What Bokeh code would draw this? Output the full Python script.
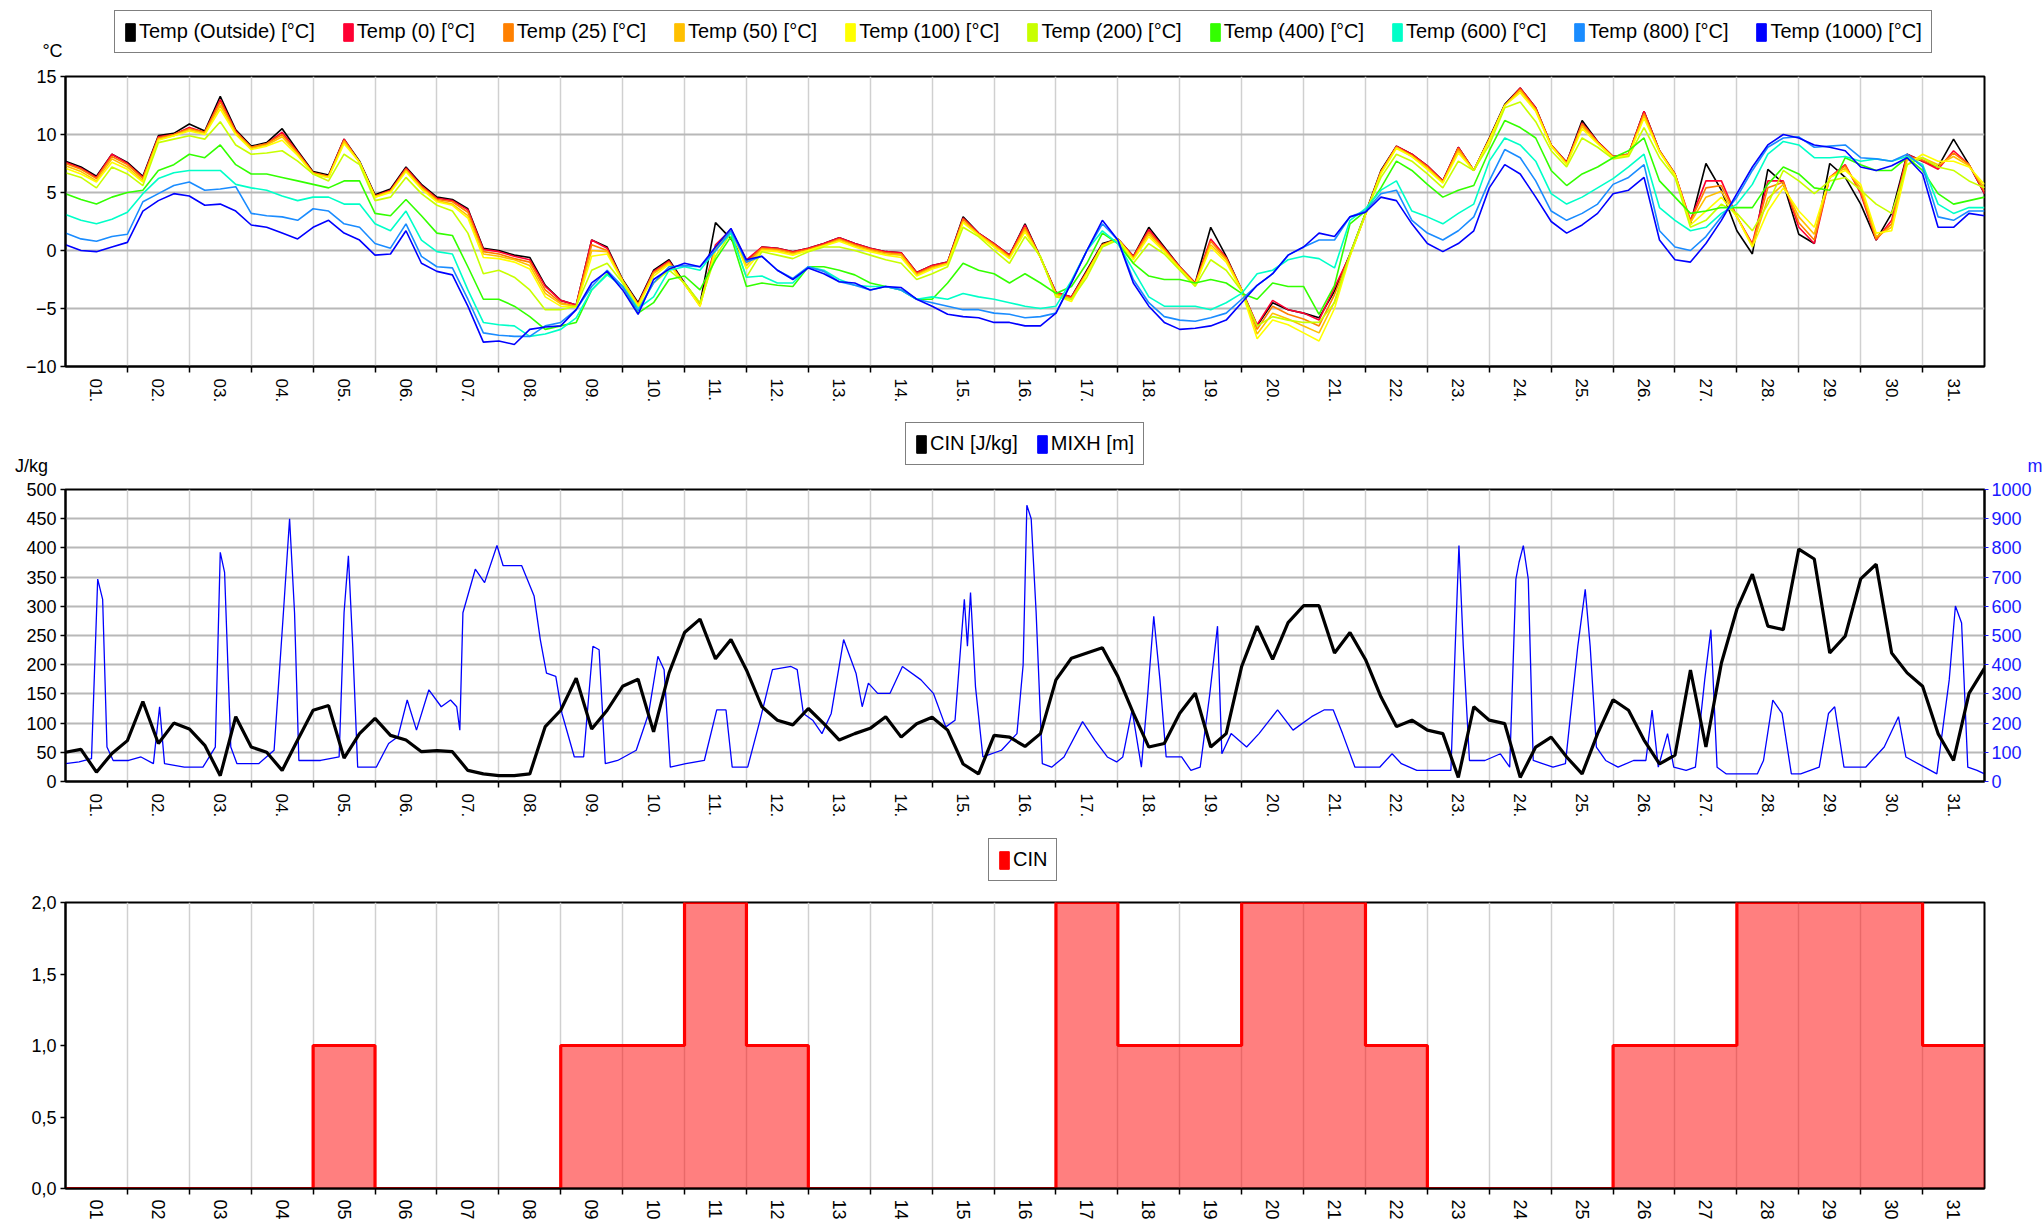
import math
from bokeh.plotting import figure
from bokeh.models import Range1d, LinearAxis, FixedTicker, Legend, LegendItem, Label
from bokeh.layouts import column
from bokeh.embed import file_html
from bokeh.resources import INLINE

FONT = "Liberation Sans"

# ------------------------------------------------------------------ data
DAY_LABELS_DOT = ["01.", "02.", "03.", "04.", "05.", "06.", "07.", "08.", "09.", "10.",
                  "11.", "12.", "13.", "14.", "15.", "16.", "17.", "18.", "19.", "20.",
                  "21.", "22.", "23.", "24.", "25.", "26.", "27.", "28.", "29.", "30.", "31."]
DAY_LABELS = ["01", "02", "03", "04", "05", "06", "07", "08", "09", "10",
              "11", "12", "13", "14", "15", "16", "17", "18", "19", "20",
              "21", "22", "23", "24", "25", "26", "27", "28", "29", "30", "31"]

TEMP_NAMES = ["Temp (Outside) [°C]", "Temp (0) [°C]", "Temp (25) [°C]", "Temp (50) [°C]",
              "Temp (100) [°C]", "Temp (200) [°C]", "Temp (400) [°C]", "Temp (600) [°C]",
              "Temp (800) [°C]", "Temp (1000) [°C]"]
TEMP_COLORS = ["#000000", "#ff0033", "#ff8000", "#ffc000", "#ffff00",
               "#c8ff00", "#33ff00", "#00ffc8", "#1a8cff", "#0000ff"]

# temperature profiles, sampled every 6 h from day 1 00:00 to day 31 24:00
T_OUT = [7.7, 7.2, 6.4, 8.3, 7.6, 6.4, 9.9, 10.1, 10.9, 10.3,
         13.3, 10.4, 9.0, 9.3, 10.5, 8.6, 6.8, 6.5, 9.6, 7.7,
         4.8, 5.3, 7.2, 5.7, 4.6, 4.4, 3.6, 0.2, 0.0, -0.4,
         -0.6, -3.0, -4.3, -4.7, 0.9, 0.3, -2.5, -4.5, -1.7, -0.8,
         -2.8, -4.6, 2.4, 1.0, -1.0, 0.3, 0.2, -0.1, 0.2, 0.6,
         1.1, 0.6, 0.2, -0.1, -0.2, -1.9, -1.3, -1.0, 2.9, 1.5,
         0.6, -0.4, 2.3, -0.6, -3.6, -4.0, -1.7, 0.6, 1.0, -0.5,
         2.0, 0.3, -1.4, -2.8, 2.0, -0.5, -3.4, -6.5, -4.5, -5.1,
         -5.4, -5.8, -3.5, -0.3, 3.2, 6.9, 9.0, 8.3, 7.3, 6.0,
         8.9, 6.9, 9.7, 12.6, 14.0, 12.3, 9.1, 7.6, 11.2, 9.4,
         8.1, 8.3, 12.0, 8.6, 6.6, 2.3, 7.5, 5.2, 1.7, -0.3,
         7.0, 5.8, 1.4, 0.6, 7.5, 6.3, 4.0, 0.9, 3.2, 8.3,
         7.7, 7.2, 9.6, 7.4, 4.9]
T_0 = [7.6, 7.1, 6.3, 8.3, 7.5, 6.3, 9.8, 10.0, 10.6, 10.2,
       13.0, 10.3, 8.9, 9.2, 10.2, 8.5, 6.7, 6.4, 9.6, 7.6,
       4.7, 5.2, 7.1, 5.6, 4.5, 4.3, 3.5, 0.1, -0.1, -0.5,
       -0.8, -3.1, -4.3, -4.7, 0.9, 0.2, -2.6, -4.6, -1.8, -0.9,
       -2.9, -4.7, 0.5, 1.8, -0.8, 0.3, 0.2, -0.1, 0.2, 0.6,
       1.1, 0.6, 0.2, -0.1, -0.2, -1.9, -1.3, -1.0, 2.8, 1.5,
       0.6, -0.4, 2.2, -0.6, -3.6, -4.0, -1.8, 0.5, 1.0, -0.5,
       1.8, 0.2, -1.4, -2.8, 1.0, -0.6, -3.4, -6.4, -4.3, -5.1,
       -5.4, -6.0, -3.2, -0.4, 3.1, 6.8, 9.0, 8.3, 7.3, 6.0,
       8.9, 6.9, 9.6, 12.5, 14.0, 12.3, 9.1, 7.6, 11.0, 9.4,
       8.1, 8.3, 12.0, 8.6, 6.6, 2.6, 6.0, 6.0, 2.9, 0.6,
       6.0, 6.0, 2.0, 0.6, 6.3, 7.4, 4.9, 0.9, 2.6, 8.3,
       7.7, 7.0, 8.6, 7.4, 4.9]
T_25 = [7.5, 7.0, 6.2, 8.1, 7.4, 6.2, 9.7, 10.0, 10.5, 10.2,
        12.8, 10.2, 8.9, 9.2, 10.0, 8.4, 6.7, 6.4, 9.5, 7.6,
        4.7, 5.1, 7.0, 5.5, 4.4, 4.2, 3.3, -0.1, -0.3, -0.7,
        -1.0, -3.4, -4.5, -4.8, 0.5, 0.0, -2.6, -4.7, -1.9, -1.0,
        -2.9, -4.7, 0.3, 1.8, -1.0, 0.2, 0.1, -0.2, 0.1, 0.5,
        1.0, 0.5, 0.1, -0.2, -0.3, -2.0, -1.4, -1.1, 2.7, 1.4,
        0.5, -0.5, 2.0, -0.6, -3.7, -4.1, -1.9, 0.5, 1.0, -0.6,
        1.6, 0.1, -1.5, -2.9, 0.8, -0.7, -3.4, -6.8, -4.8, -5.5,
        -5.9, -6.5, -3.8, -0.4, 3.1, 6.8, 8.9, 8.2, 7.2, 5.9,
        8.8, 6.9, 9.6, 12.5, 13.9, 12.2, 9.1, 7.5, 10.9, 9.3,
        8.1, 8.3, 11.8, 8.6, 6.6, 2.5, 5.4, 5.6, 2.9, 0.5,
        5.4, 5.9, 2.4, 0.9, 6.3, 7.3, 5.1, 1.0, 2.3, 8.1,
        7.8, 7.2, 8.4, 7.4, 5.1]
T_50 = [7.3, 6.8, 6.0, 7.9, 7.2, 6.0, 9.6, 9.9, 10.4, 10.1,
        12.5, 10.1, 8.8, 9.1, 9.8, 8.3, 6.6, 6.3, 9.4, 7.6,
        4.6, 5.1, 6.9, 5.4, 4.3, 4.0, 3.0, -0.3, -0.5, -0.8,
        -1.3, -3.7, -4.6, -4.8, 0.0, -0.1, -2.6, -4.7, -2.0, -1.1,
        -2.9, -4.8, 0.1, 1.8, -1.3, 0.1, 0.0, -0.3, 0.0, 0.4,
        0.9, 0.4, 0.0, -0.3, -0.4, -2.1, -1.5, -1.1, 2.5, 1.4,
        0.4, -0.6, 1.8, -0.6, -3.8, -4.2, -1.9, 0.4, 1.0, -0.7,
        1.4, 0.0, -1.5, -2.9, 0.5, -0.8, -3.4, -7.2, -5.4, -5.9,
        -6.5, -7.1, -4.4, -0.4, 3.1, 6.7, 8.9, 8.1, 7.1, 5.9,
        8.6, 6.9, 9.5, 12.5, 13.8, 12.1, 9.0, 7.5, 10.7, 9.3,
        8.0, 8.2, 11.6, 8.5, 6.5, 2.4, 4.6, 5.1, 2.9, 0.4,
        4.5, 5.7, 2.9, 1.4, 6.3, 7.1, 5.4, 1.2, 2.0, 7.8,
        8.0, 7.4, 8.1, 7.3, 5.4]
T_100 = [7.1, 6.6, 5.9, 7.6, 7.0, 5.9, 9.5, 9.9, 10.3, 10.0,
         12.2, 10.0, 8.7, 9.0, 9.5, 8.2, 6.6, 6.3, 9.2, 7.6,
         4.6, 5.0, 6.8, 5.3, 4.2, 3.9, 2.8, -0.6, -0.7, -1.0,
         -1.6, -4.0, -4.8, -4.9, -0.5, -0.3, -2.7, -4.8, -2.2, -1.2,
         -2.9, -4.8, 0.0, 1.8, -1.6, 0.0, -0.1, -0.4, 0.0, 0.4,
         0.8, 0.3, -0.1, -0.4, -0.6, -2.2, -1.6, -1.2, 2.4, 1.3,
         0.3, -0.7, 1.6, -0.6, -3.9, -4.4, -2.0, 0.4, 1.0, -0.8,
         1.2, -0.1, -1.6, -3.0, 0.3, -1.0, -3.5, -7.6, -6.0, -6.4,
         -7.1, -7.8, -5.0, -0.5, 3.1, 6.6, 8.8, 8.1, 7.0, 5.8,
         8.4, 6.9, 9.5, 12.5, 13.6, 12.0, 9.0, 7.4, 10.5, 9.2,
         8.0, 8.2, 11.4, 8.5, 6.5, 2.2, 3.4, 4.6, 2.9, 0.3,
         3.4, 5.4, 3.4, 2.0, 6.3, 6.9, 5.7, 1.5, 1.7, 7.4,
         8.3, 7.7, 7.7, 7.2, 5.7]
T_200 = [6.7, 6.3, 5.4, 7.2, 6.6, 5.6, 9.3, 9.6, 9.9, 9.6,
         11.1, 9.1, 8.3, 8.4, 8.6, 7.7, 6.6, 6.0, 8.3, 7.4,
         4.3, 4.6, 6.3, 4.9, 3.9, 3.4, 1.5, -2.0, -1.7, -2.3,
         -3.4, -5.1, -5.1, -4.8, -1.7, -1.1, -2.8, -5.0, -2.8, -1.7,
         -2.8, -4.5, -0.5, 1.5, -2.3, -0.1, -0.4, -0.7, -0.1, 0.3,
         0.3, 0.0, -0.4, -0.8, -1.1, -2.5, -2.0, -1.4, 2.0, 1.2,
         0.0, -1.1, 1.2, -0.5, -4.0, -4.2, -2.3, 0.3, 0.9, -1.1,
         0.6, -0.3, -1.7, -3.1, -0.8, -1.7, -3.5, -6.5, -5.7, -6.0,
         -6.2, -6.2, -4.5, -0.3, 3.2, 6.3, 8.3, 7.7, 6.6, 5.4,
         7.7, 6.9, 9.1, 12.3, 12.8, 11.1, 8.6, 7.2, 9.7, 8.9,
         7.9, 8.1, 10.6, 8.0, 6.3, 2.0, 2.6, 4.0, 3.2, 1.7,
         4.0, 6.9, 6.0, 4.9, 6.0, 6.3, 5.2, 4.0, 3.2, 7.4,
         8.0, 7.2, 6.9, 6.0, 5.4]
T_400 = [4.9, 4.4, 4.0, 4.6, 5.0, 5.2, 6.9, 7.4, 8.3, 8.0,
         9.1, 7.4, 6.6, 6.6, 6.3, 6.0, 5.7, 5.4, 6.0, 6.0,
         3.2, 3.0, 4.4, 3.0, 1.5, 1.3, -1.4, -4.2, -4.2, -4.8,
         -5.7, -6.8, -6.5, -6.2, -3.4, -2.0, -3.1, -5.4, -4.5, -2.5,
         -2.2, -3.4, -0.8, 1.2, -3.1, -2.8, -3.0, -3.1, -1.4, -1.4,
         -1.7, -2.1, -2.8, -3.1, -3.4, -4.2, -4.2, -2.8, -1.1, -1.7,
         -2.0, -2.8, -2.0, -2.8, -3.7, -3.1, -1.1, 1.5, 0.6, -1.1,
         -2.2, -2.5, -2.5, -2.8, -2.5, -2.8, -3.7, -4.2, -2.8, -3.1,
         -3.1, -5.5, -3.0, 2.3, 3.4, 5.4, 7.7, 6.9, 5.7, 4.6,
         5.2, 5.6, 8.6, 11.2, 10.6, 9.7, 6.9, 5.6, 6.6, 7.2,
         8.0, 8.6, 9.7, 6.0, 4.6, 3.2, 3.4, 3.7, 3.7, 3.7,
         5.7, 7.2, 6.6, 5.4, 5.2, 8.0, 7.4, 6.9, 6.9, 8.0,
         6.9, 4.9, 4.0, 4.3, 4.6]
T_600 = [3.1, 2.6, 2.3, 2.7, 3.3, 4.9, 6.2, 6.7, 6.9, 6.9,
         6.9, 5.7, 5.4, 5.2, 4.7, 4.3, 4.6, 4.6, 4.0, 4.0,
         2.3, 1.7, 3.4, 0.9, -0.1, -0.3, -3.4, -6.2, -6.4, -6.5,
         -7.4, -7.2, -6.8, -5.8, -3.4, -2.1, -3.1, -5.0, -4.0, -1.7,
         -1.4, -1.7, 0.0, 1.5, -2.3, -2.2, -2.8, -2.8, -1.4, -1.7,
         -2.5, -3.0, -3.1, -3.1, -3.4, -4.2, -4.0, -4.2, -3.7, -4.0,
         -4.2, -4.5, -4.8, -5.0, -4.8, -2.6, 0.0, 1.7, 0.6, -1.7,
         -4.0, -4.8, -4.8, -4.8, -5.1, -4.5, -3.7, -2.0, -1.7, -0.8,
         -0.5, -0.7, -1.5, 2.6, 3.6, 5.2, 6.0, 3.4, 2.9, 2.3,
         3.2, 4.0, 7.7, 9.7, 9.1, 7.7, 4.9, 4.0, 4.6, 5.4,
         6.2, 7.2, 8.3, 3.7, 2.6, 1.7, 2.0, 3.2, 4.0, 5.7,
         8.3, 9.4, 9.1, 8.0, 8.0, 8.1, 7.7, 7.9, 7.7, 8.1,
         7.4, 4.0, 3.2, 3.7, 3.7]
T_800 = [1.5, 1.0, 0.8, 1.2, 1.4, 4.2, 4.9, 5.6, 5.9, 5.2,
         5.3, 5.5, 3.2, 3.0, 2.9, 2.6, 3.6, 3.4, 2.3, 2.0,
         0.6, 0.2, 2.3, -0.5, -1.4, -1.5, -4.2, -7.1, -7.3, -7.4,
         -7.4, -6.5, -6.2, -5.1, -3.1, -1.7, -3.1, -5.2, -2.8, -1.4,
         -1.3, -1.4, 0.0, 1.7, -1.0, -0.5, -1.7, -2.4, -1.4, -1.8,
         -2.7, -3.0, -3.4, -3.1, -3.4, -4.2, -4.5, -4.8, -5.1, -5.1,
         -5.4, -5.5, -5.8, -5.7, -5.4, -2.7, 0.0, 2.3, 0.9, -2.5,
         -4.5, -5.7, -6.0, -6.1, -5.8, -5.4, -4.2, -3.0, -2.0, -0.4,
         0.3, 0.9, 0.9, 2.9, 3.4, 4.9, 5.2, 2.6, 1.5, 0.9,
         1.7, 2.9, 6.0, 8.7, 8.0, 6.0, 3.4, 2.6, 3.2, 4.0,
         5.7, 6.3, 7.4, 1.7, 0.3, 0.0, 1.2, 2.9, 4.6, 6.9,
         8.9, 9.7, 9.8, 8.9, 9.0, 9.1, 8.0, 7.9, 7.7, 8.3,
         7.2, 2.9, 2.6, 3.4, 3.4]
T_1000 = [0.5, 0.0, -0.1, 0.3, 0.7, 3.4, 4.3, 4.9, 4.7, 3.9,
          4.0, 3.4, 2.2, 2.0, 1.5, 1.0, 2.0, 2.6, 1.5, 0.9,
          -0.4, -0.3, 1.7, -1.1, -1.8, -2.1, -4.8, -7.9, -7.8, -8.1,
          -6.8, -6.6, -6.5, -5.1, -2.8, -1.8, -3.4, -5.5, -2.5, -1.6,
          -1.1, -1.4, 0.3, 1.9, -0.8, -0.5, -1.7, -2.5, -1.5, -2.0,
          -2.7, -2.8, -3.4, -3.1, -3.2, -4.2, -4.8, -5.5, -5.7, -5.8,
          -6.2, -6.2, -6.5, -6.5, -5.4, -2.8, 0.0, 2.6, 0.9, -2.8,
          -4.8, -6.2, -6.8, -6.7, -6.5, -6.0, -4.5, -3.0, -2.0, -0.4,
          0.3, 1.5, 1.2, 2.9, 3.3, 4.6, 4.3, 2.3, 0.6, -0.1,
          0.6, 1.7, 5.4, 7.4, 6.6, 4.6, 2.5, 1.5, 2.2, 3.2,
          4.9, 5.2, 6.3, 0.9, -0.8, -1.0, 0.6, 2.6, 4.9, 7.2,
          9.1, 10.0, 9.7, 9.1, 8.9, 8.6, 7.2, 6.9, 7.3, 8.0,
          6.6, 2.0, 2.0, 3.2, 3.0]

# CIN [J/kg], every 6 h
CIN_JKG = [50, 55, 16, 48, 70, 137, 65, 100, 90, 62,
           10, 111, 59, 50, 19, 71, 122, 130, 40, 82,
           108, 79, 71, 51, 53, 51, 19, 13, 10, 10,
           13, 94, 122, 177, 90, 122, 163, 175, 85, 186,
           255, 278, 210, 243, 191, 128, 105, 97, 125, 99,
           71, 82, 91, 111, 76, 99, 110, 88, 30, 13,
           79, 76, 60, 82, 174, 211, 220, 229, 180, 117,
           59, 65, 117, 151, 59, 82, 197, 266, 209, 272,
           301, 301, 220, 255, 209, 145, 94, 105, 88, 82,
           7, 128, 105, 99, 7, 59, 76, 42, 13, 82,
           140, 122, 71, 30, 45, 191, 59, 203, 295, 355,
           266, 260, 398, 381, 220, 249, 347, 372, 220, 186,
           163, 82, 36, 151, 194]

# mixing height [m]: time (days since day 1 00:00) and value
MIXH_T = [0.0, 0.22, 0.42, 0.52, 0.6, 0.67, 0.77,
          1.02, 1.22, 1.42, 1.52, 1.6, 1.92,
          2.22, 2.42, 2.5, 2.57, 2.67, 2.77,
          3.12, 3.37, 3.52, 3.62, 3.7, 3.77,
          4.12, 4.42, 4.5, 4.57, 4.64, 4.72,
          5.02, 5.22, 5.37, 5.52, 5.67, 5.87,
          6.07, 6.22, 6.32, 6.37, 6.42, 6.62, 6.77, 6.97,
          7.07, 7.37, 7.57, 7.67, 7.77, 7.92,
          8.02, 8.22, 8.37, 8.52, 8.62, 8.72, 8.92,
          9.22, 9.42, 9.57, 9.67, 9.77,
          10.02, 10.32, 10.52, 10.67, 10.77,
          11.02, 11.22, 11.42, 11.72, 11.82, 11.92,
          12.07, 12.22, 12.37, 12.57, 12.77, 12.87, 12.97,
          13.12, 13.32, 13.52, 13.82,
          14.02, 14.22, 14.37, 14.52, 14.57, 14.62, 14.7, 14.82,
          15.12, 15.37, 15.47, 15.53, 15.6, 15.68, 15.78, 15.93,
          16.13, 16.43, 16.63, 16.83, 16.98,
          17.08, 17.23, 17.38, 17.48, 17.58, 17.68, 17.78,
          18.03, 18.18, 18.33, 18.48, 18.61, 18.68, 18.83,
          19.08, 19.28, 19.58, 19.83,
          20.13, 20.33, 20.48, 20.63, 20.83,
          21.23, 21.43, 21.58, 21.83,
          22.38, 22.45, 22.51, 22.58, 22.68, 22.93,
          23.18, 23.33, 23.43, 23.48, 23.55, 23.63, 23.71,
          24.03, 24.23, 24.43, 24.55, 24.63, 24.73, 24.88,
          25.08, 25.33, 25.53, 25.63, 25.73, 25.88, 25.98,
          26.18, 26.33, 26.48, 26.58, 26.68, 26.83,
          27.03, 27.33, 27.43, 27.58, 27.73, 27.88,
          28.03, 28.33, 28.48, 28.58, 28.73,
          29.08, 29.38, 29.61, 29.73,
          30.03, 30.23, 30.43, 30.53, 30.63, 30.73, 30.88, 31.0]
MIXH_M = [61, 67, 78, 693, 624, 118, 72,
          72, 84, 61, 256, 61, 49,
          49, 118, 785, 716, 118, 61,
          61, 107, 578, 900, 578, 72,
          72, 84, 578, 773, 463, 49,
          49, 130, 153, 279, 176, 314,
          256, 279, 256, 176, 578, 727, 681, 808,
          739, 739, 635, 486, 371, 360,
          233, 84, 84, 463, 451, 61, 72,
          107, 233, 429, 383, 49,
          61, 72, 245, 245, 49,
          49, 210, 383, 394, 383, 233,
          210, 164, 233, 486, 371, 256, 337,
          302, 302, 394, 348,
          302, 187, 210, 624, 463, 647, 325, 84,
          107, 164, 400, 946, 900, 578, 61, 49,
          84, 205, 141, 84, 67,
          84, 245, 49, 291, 566, 348, 84,
          84, 38, 49, 291, 532, 95, 164,
          118, 164, 245, 176,
          222, 245, 245, 164, 49,
          49, 95, 61, 38,
          38, 463, 808, 463, 72, 72,
          95, 49, 693, 750, 808, 693, 72,
          49, 61, 463, 658, 463, 118, 72,
          49, 72, 72, 245, 49, 164, 49,
          38, 49, 348, 520, 49, 26,
          26, 26, 72, 279, 233, 26,
          26, 49, 233, 256, 49,
          49, 118, 222, 84,
          49, 26, 348, 601, 543, 49, 38, 26]

# daily CIN class
CIN_DAYS = [0, 0, 0, 0, 1, 0, 0, 0, 1, 1, 2, 1, 0, 0, 0, 0,
            2, 1, 1, 2, 2, 1, 0, 0, 0, 1, 1, 2, 2, 2, 1]
CIN_TICKS = [0, 0.5, 1, 1.5, 2]
CIN_TICK_LABELS = ["0,0", "0,5", "1,0", "1,5", "2,0"]

TEMPS = [T_OUT, T_0, T_25, T_50, T_100, T_200, T_400, T_600, T_800, T_1000]
for s in TEMPS + [CIN_JKG]:
    assert len(s) == 125, len(s)
assert len(MIXH_T) == len(MIXH_M), (len(MIXH_T), len(MIXH_M))

# sampling times (6-hourly) -> x in day-of-month units (day k centred on k)
X6 = [0.5 + 0.25 * i for i in range(125)]
XM = [0.5 + t for t in MIXH_T]

W = 2044
LEFT = 65
RIGHT = 60

HDR_SHIFT = 0


def make_header(height):
    global HDR_SHIFT
    h = figure(width=W, height=height, x_range=Range1d(0, 1), y_range=Range1d(0, 1),
               x_axis_location=None, y_axis_location=None,
               output_backend="svg", toolbar_location=None,
               min_border_left=0, min_border_right=0, min_border_top=0, min_border_bottom=0)
    h.outline_line_color = None
    h.background_fill_color = "white"
    h.border_fill_color = "white"
    h.grid.visible = False
    try:
        h.frame_align = False
    except Exception:
        HDR_SHIFT = LEFT
    return h


def make_fig(height, top, bottom, ylo, yhi, yticks, xlabels, xfont, standoff):
    p = figure(width=W, height=height, x_range=Range1d(0.5, 31.5), y_range=Range1d(ylo, yhi),
               output_backend="svg", toolbar_location=None,
               min_border_left=LEFT, min_border_right=RIGHT,
               min_border_top=top, min_border_bottom=bottom)
    p.background_fill_color = "white"
    p.border_fill_color = "white"
    p.outline_line_color = "black"
    p.outline_line_width = 2
    xa = p.xaxis[0]
    xa.ticker = FixedTicker(ticks=list(range(1, 32)), minor_ticks=[k + 0.5 for k in range(1, 31)])
    xa.major_label_overrides = {k + 1: lab for k, lab in enumerate(xlabels)}
    xa.major_label_orientation = -math.pi / 2
    xa.major_tick_line_color = None
    xa.major_tick_out = 0
    xa.major_tick_in = 0
    xa.minor_tick_line_color = "black"
    xa.minor_tick_line_width = 1.5
    xa.minor_tick_out = 6
    xa.minor_tick_in = 0
    xa.major_label_standoff = standoff
    xa.major_label_text_font = FONT
    xa.major_label_text_font_size = xfont
    xa.major_label_text_color = "black"
    xa.axis_line_color = "black"
    xa.axis_line_width = 2
    ya = p.yaxis[0]
    ya.ticker = FixedTicker(ticks=yticks)
    ya.major_tick_out = 5
    ya.major_tick_in = 0
    ya.major_tick_line_color = "black"
    ya.major_tick_line_width = 1.5
    ya.minor_tick_line_color = None
    ya.major_label_standoff = 4
    ya.major_label_text_font = FONT
    ya.major_label_text_font_size = "18px"
    ya.major_label_text_color = "black"
    ya.axis_line_color = "black"
    ya.axis_line_width = 2
    p.xgrid.grid_line_color = None
    p.xgrid.minor_grid_line_color = "#d0d0d0"
    p.xgrid.minor_grid_line_width = 1.5
    p.ygrid.grid_line_color = "#b8b8b8"
    p.ygrid.grid_line_width = 2
    return p


def add_legend(h, names, colors, x, y, spacing):
    items = []
    for n, c in zip(names, colors):
        # legend proxy: one swatch placed outside the (0..1) header ranges, never visible itself
        r = h.quad(left=[5], right=[6], top=[6], bottom=[5], fill_color=c, line_color=c)
        items.append(LegendItem(label=n, renderers=[r]))
    lg = Legend(items=items, orientation="horizontal", location=(x - HDR_SHIFT, y),
                border_line_color="black", border_line_width=1.5,
                background_fill_color="white", background_fill_alpha=1.0,
                padding=9, spacing=spacing, margin=0, label_standoff=3,
                glyph_width=12, glyph_height=22, label_height=22,
                label_text_font=FONT, label_text_font_size="20px",
                label_text_color="black")
    h.add_layout(lg)


def unit_label(h, x, y, text, color="black", align="center"):
    h.add_layout(Label(x=x - HDR_SHIFT, y=y, x_units="screen", y_units="screen", text=text,
                       text_align=align, text_baseline="middle", text_font=FONT,
                       text_font_size="18px", text_color=color))


# ------------------------------------------------------------------ temperatures
h1 = make_header(66)
add_legend(h1, TEMP_NAMES, TEMP_COLORS, 114, 13, 27)
unit_label(h1, 52, 16, "°C")

p1 = make_fig(354, 10, 54, -10, 15, [-10, -5, 0, 5, 10, 15], DAY_LABELS_DOT, "17px", 6)
for series, col in zip(TEMPS, TEMP_COLORS):
    p1.line(X6, series, line_color=col, line_width=1.6)

# ------------------------------------------------------------------ CIN / MIXH
h2 = make_header(60)
add_legend(h2, ["CIN [J/kg]", "MIXH [m]"], ["#000000", "#0000ff"], 905, 15, 18)
unit_label(h2, 31, 15, "J/kg")
unit_label(h2, 2042, 15, "m", color="#1a1aff", align="right")

p2 = make_fig(354, 9, 53, 0, 500, list(range(0, 501, 50)), DAY_LABELS_DOT, "17px", 6)
p2.extra_y_ranges = {"mixh": Range1d(0, 1000)}
ra = LinearAxis(y_range_name="mixh", ticker=FixedTicker(ticks=list(range(0, 1001, 100))))
ra.major_label_text_color = "#1a1aff"
ra.major_label_text_font = FONT
ra.major_label_text_font_size = "18px"
ra.major_tick_line_color = "#1a1aff"
ra.major_tick_out = 4
ra.major_tick_in = 0
ra.minor_tick_line_color = None
ra.axis_line_color = "black"
ra.axis_line_width = 2
ra.major_label_standoff = 3
p2.add_layout(ra, "right")
p2.line(XM, MIXH_M, y_range_name="mixh", line_color="#0000ff", line_width=1.3)
p2.line(X6, CIN_JKG, line_color="black", line_width=3.2)

# ------------------------------------------------------------------ daily CIN
h3 = make_header(56)
add_legend(h3, ["CIN"], ["#ff0000"], 988, 9, 10)

p3 = make_fig(332, 12, 27, 0, 2, CIN_TICKS, DAY_LABELS, "18px", 5)
p3.yaxis[0].major_label_overrides = {t: lab for t, lab in zip(CIN_TICKS, CIN_TICK_LABELS)}
p3.ygrid.grid_line_color = None
edges = [k + 0.5 for k in range(0, 32)]
vals = CIN_DAYS + [CIN_DAYS[-1]]
p3.varea_step(x=edges, y1=[0] * len(edges), y2=vals, step_mode="after",
              fill_color="#ff0000", fill_alpha=0.5)
p3.step(edges, vals, mode="after", line_color="#ff0000", line_width=3.2)

layout = column(h1, p1, h2, p2, h3, p3, spacing=0)
open("out.html", "w").write(file_html(layout, INLINE))
